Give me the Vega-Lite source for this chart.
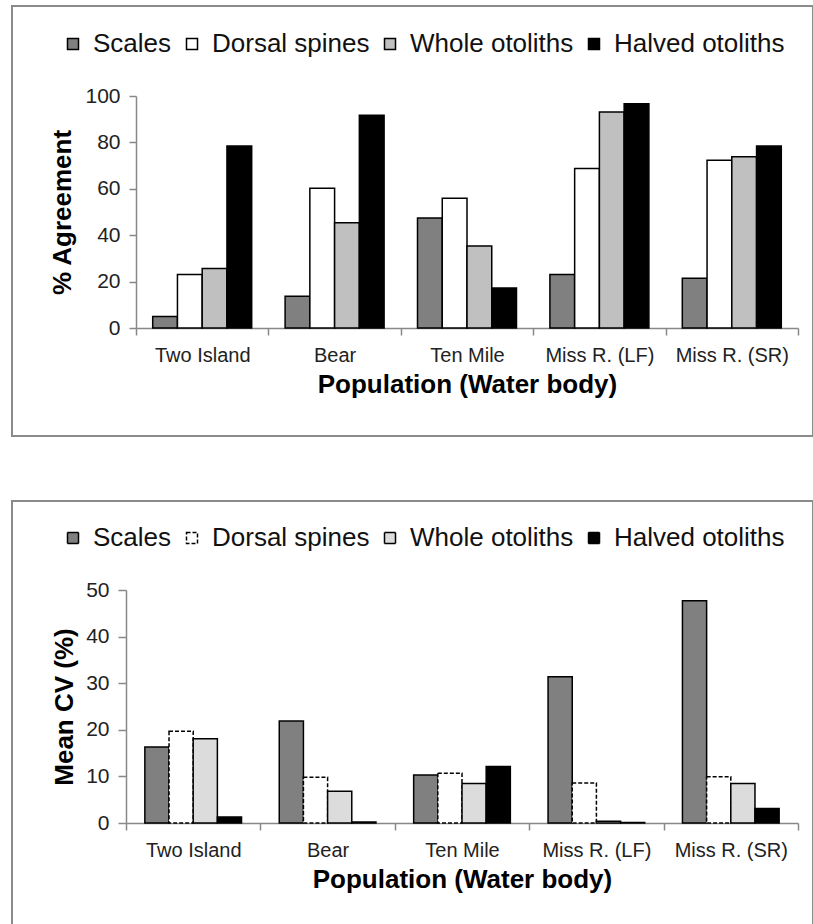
{
  "$schema": "https://vega.github.io/schema/vega-lite/v6.json",
  "padding": {"left": 11, "top": 5, "right": 0, "bottom": 0},
  "background": "white",
  "datasets": {
    "agree": [
      {"population": "Two Island", "method": "Scales", "value": 5.0},
      {"population": "Two Island", "method": "Dorsal spines", "value": 23.1},
      {"population": "Two Island", "method": "Whole otoliths", "value": 25.6},
      {"population": "Two Island", "method": "Halved otoliths", "value": 78.4},
      {"population": "Bear", "method": "Scales", "value": 13.7},
      {"population": "Bear", "method": "Dorsal spines", "value": 60.2},
      {"population": "Bear", "method": "Whole otoliths", "value": 45.4},
      {"population": "Bear", "method": "Halved otoliths", "value": 91.7},
      {"population": "Ten Mile", "method": "Scales", "value": 47.4},
      {"population": "Ten Mile", "method": "Dorsal spines", "value": 55.9},
      {"population": "Ten Mile", "method": "Whole otoliths", "value": 35.3},
      {"population": "Ten Mile", "method": "Halved otoliths", "value": 17.2},
      {"population": "Miss R. (LF)", "method": "Scales", "value": 23.1},
      {"population": "Miss R. (LF)", "method": "Dorsal spines", "value": 68.8},
      {"population": "Miss R. (LF)", "method": "Whole otoliths", "value": 93.1},
      {"population": "Miss R. (LF)", "method": "Halved otoliths", "value": 96.7},
      {"population": "Miss R. (SR)", "method": "Scales", "value": 21.4},
      {"population": "Miss R. (SR)", "method": "Dorsal spines", "value": 72.3},
      {"population": "Miss R. (SR)", "method": "Whole otoliths", "value": 73.8},
      {"population": "Miss R. (SR)", "method": "Halved otoliths", "value": 78.4}
    ],
    "cv": [
      {"population": "Two Island", "method": "Scales", "value": 16.3},
      {"population": "Two Island", "method": "Dorsal spines", "value": 19.7},
      {"population": "Two Island", "method": "Whole otoliths", "value": 18.1},
      {"population": "Two Island", "method": "Halved otoliths", "value": 1.3},
      {"population": "Bear", "method": "Scales", "value": 21.9},
      {"population": "Bear", "method": "Dorsal spines", "value": 9.8},
      {"population": "Bear", "method": "Whole otoliths", "value": 6.8},
      {"population": "Bear", "method": "Halved otoliths", "value": 0.2},
      {"population": "Ten Mile", "method": "Scales", "value": 10.3},
      {"population": "Ten Mile", "method": "Dorsal spines", "value": 10.7},
      {"population": "Ten Mile", "method": "Whole otoliths", "value": 8.5},
      {"population": "Ten Mile", "method": "Halved otoliths", "value": 12.1},
      {"population": "Miss R. (LF)", "method": "Scales", "value": 31.4},
      {"population": "Miss R. (LF)", "method": "Dorsal spines", "value": 8.6},
      {"population": "Miss R. (LF)", "method": "Whole otoliths", "value": 0.4},
      {"population": "Miss R. (LF)", "method": "Halved otoliths", "value": 0.1},
      {"population": "Miss R. (SR)", "method": "Scales", "value": 47.7},
      {"population": "Miss R. (SR)", "method": "Dorsal spines", "value": 9.9},
      {"population": "Miss R. (SR)", "method": "Whole otoliths", "value": 8.5},
      {"population": "Miss R. (SR)", "method": "Halved otoliths", "value": 3.1}
    ]
  },
  "spacing": 63,
  "vconcat": [
    {
      "width": 801,
      "height": 430,
      "data": {"name": "agree"},
      "mark": {"type": "bar", "stroke": "black", "strokeWidth": 1.5},
      "encoding": {
        "x": {
          "field": "population", "type": "nominal",
          "sort": ["Two Island", "Bear", "Ten Mile", "Miss R. (LF)", "Miss R. (SR)"],
          "scale": {"range": [124, 786], "paddingInner": 0, "paddingOuter": 0},
          "axis": {
            "title": "Population (Water body)", "labelAngle": 0, "offset": -108,
            "tickBand": "extent", "tickSize": 7, "labelPadding": 10,
            "labelFontSize": 20, "titleFontSize": 26, "titleFontWeight": "bold", "titlePadding": 6
          }
        },
        "xOffset": {
          "field": "method", "type": "nominal",
          "sort": ["Scales", "Dorsal spines", "Whole otoliths", "Halved otoliths"],
          "scale": {"paddingInner": 0, "paddingOuter": 0.675}
        },
        "y": {
          "field": "value", "type": "quantitative",
          "scale": {"domain": [0, 100], "range": [322, 90], "nice": false},
          "axis": {
            "title": "% Agreement", "values": [0, 20, 40, 60, 80, 100], "offset": -124,
            "tickSize": 7, "labelPadding": 9, "labelFontSize": 21,
            "titleFontSize": 26, "titleFontWeight": "bold",
            "titleX": -74, "titleY": 206, "titleAngle": -90, "titleBaseline": "middle", "titleAlign": "center"
          }
        },
        "fill": {
          "field": "method", "type": "nominal",
          "scale": {
            "domain": ["Scales", "Dorsal spines", "Whole otoliths", "Halved otoliths"],
            "range": ["#808080", "#ffffff", "#c0c0c0", "#000000"]
          },
          "legend": {"orient": "none", "legendX": 48, "legendY": 25, "direction": "horizontal", "title": null}
        }
      }
    },
    {
      "width": 801,
      "height": 424,
      "data": {"name": "cv"},
      "mark": {"type": "bar", "stroke": "black", "strokeWidth": 1.5},
      "encoding": {
        "x": {
          "field": "population", "type": "nominal",
          "sort": ["Two Island", "Bear", "Ten Mile", "Miss R. (LF)", "Miss R. (SR)"],
          "scale": {"range": [114, 786], "paddingInner": 0, "paddingOuter": 0},
          "axis": {
            "title": "Population (Water body)", "labelAngle": 0, "offset": -102,
            "tickBand": "extent", "tickSize": 7, "labelPadding": 10,
            "labelFontSize": 20, "titleFontSize": 26, "titleFontWeight": "bold", "titlePadding": 6
          }
        },
        "xOffset": {
          "field": "method", "type": "nominal",
          "sort": ["Scales", "Dorsal spines", "Whole otoliths", "Halved otoliths"],
          "scale": {"paddingInner": 0, "paddingOuter": 0.78}
        },
        "y": {
          "field": "value", "type": "quantitative",
          "scale": {"domain": [0, 50], "range": [322, 89], "nice": false},
          "axis": {
            "title": "Mean CV (%)", "values": [0, 10, 20, 30, 40, 50], "offset": -114,
            "tickSize": 8, "labelPadding": 9, "labelFontSize": 21,
            "titleFontSize": 26, "titleFontWeight": "bold",
            "titleX": -62, "titleY": 205.5, "titleAngle": -90, "titleBaseline": "middle", "titleAlign": "center"
          }
        },
        "fill": {
          "field": "method", "type": "nominal",
          "scale": {
            "domain": ["Scales", "Dorsal spines", "Whole otoliths", "Halved otoliths"],
            "range": ["#808080", "#ffffff", "#dcdcdc", "#000000"]
          },
          "legend": {"orient": "none", "legendX": 48, "legendY": 24, "direction": "horizontal", "title": null}
        },
        "strokeDash": {
          "field": "method", "type": "nominal",
          "scale": {
            "domain": ["Scales", "Dorsal spines", "Whole otoliths", "Halved otoliths"],
            "range": [[1, 0], [4, 2], [1, 0], [1, 0]]
          },
          "legend": null
        }
      }
    }
  ],
  "resolve": {"scale": {"fill": "independent", "strokeDash": "independent", "x": "independent", "y": "independent", "xOffset": "independent"}},
  "config": {
    "font": "Liberation Sans",
    "view": {"stroke": "#8a8a8a", "strokeWidth": 2},
    "axis": {
      "grid": false, "domainColor": "#888888", "domainWidth": 1.5, "tickColor": "#888888", "tickWidth": 1.5,
      "labelColor": "#222222", "titleColor": "#000000", "labelFont": "Liberation Sans", "titleFont": "Liberation Sans"
    },
    "legend": {
      "symbolType": "square", "symbolSize": 121, "symbolStrokeColor": "#000000", "symbolStrokeWidth": 1.5,
      "labelFontSize": 26, "labelColor": "#111111", "labelOffset": 7, "columnPadding": 7, "labelLimit": 400,
      "labelFont": "Liberation Sans"
    }
  }
}
